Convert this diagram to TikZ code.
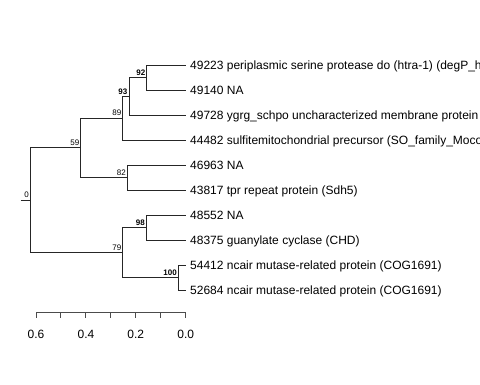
\documentclass[tikz,border=0pt]{standalone}
\usepackage{fontspec}
\setmainfont{Liberation Sans}
\usetikzlibrary{calc}
\begin{document}
\begin{tikzpicture}[x=1pt,y=-1pt,
  edge/.style={draw=black!85,line width=0.9pt},
  leaflab/.style={anchor=base west,inner sep=0pt,font=\fontsize{12}{14}\selectfont},
  boot/.style={anchor=base east,inner sep=0pt,font=\fontsize{8}{9}\selectfont},
  bootb/.style={boot,font=\fontsize{8}{9}\selectfont\bfseries},
  axlab/.style={anchor=base,inner sep=0pt,font=\fontsize{12}{14}\selectfont}]
\useasboundingbox (0,0) rectangle (480,384);
% internal nodes
\coordinate (root) at (30.7,200);
\coordinate (rs) at (20.7,200);
\coordinate (n59) at (80.7,147.5);
\coordinate (n89) at (122.7,118.1);
\coordinate (n93) at (129,96.25);
\coordinate (n92) at (146.7,77.5);
\coordinate (n82) at (127.3,177.5);
\coordinate (n79) at (122.7,252.5);
\coordinate (n98) at (146,227.5);
\coordinate (n100) at (178.3,277.5);
% leaves
\foreach \i/\yy in {1/65,2/90,3/115,4/140,5/165,6/190,7/215,8/240,9/265,10/290}
  \coordinate (t\i) at (185.7,\yy);
\node[leaflab] (l1) at (190,69.3) {49223 periplasmic serine protease do (htra-1) (degP\_htrA\_DO)};
\node[leaflab] (l2) at (190,94.3) {49140 NA};
\node[leaflab] (l3) at (190,119.3) {49728 ygrg\_schpo uncharacterized membrane protein};
\node[leaflab] (l4) at (190,144.3) {44482 sulfitemitochondrial precursor (SO\_family\_Moco)};
\node[leaflab] (l5) at (190,169.3) {46963 NA};
\node[leaflab] (l6) at (190,194.3) {43817 tpr repeat protein (Sdh5)};
\node[leaflab] (l7) at (190,219.3) {48552 NA};
\node[leaflab] (l8) at (190,244.3) {48375 guanylate cyclase (CHD)};
\node[leaflab] (l9) at (190,269.3) {54412 ncair mutase-related protein (COG1691)};
\node[leaflab] (l10) at (190,294.3) {52684 ncair mutase-related protein (COG1691)};
% edges
\draw[edge] (rs) -- (root);
\draw[edge] (root) |- (n59);
\draw[edge] (root) |- (n79);
\draw[edge] (n59) |- (n89);
\draw[edge] (n59) |- (n82);
\draw[edge] (n89) |- (n93);
\draw[edge] (n89) |- (t4);
\draw[edge] (n93) |- (n92);
\draw[edge] (n93) |- (t3);
\draw[edge] (n92) |- (t1);
\draw[edge] (n92) |- (t2);
\draw[edge] (n82) |- (t5);
\draw[edge] (n82) |- (t6);
\draw[edge] (n79) |- (n98);
\draw[edge] (n79) |- (n100);
\draw[edge] (n98) |- (t7);
\draw[edge] (n98) |- (t8);
\draw[edge] (n100) |- (t9);
\draw[edge] (n100) |- (t10);
% bootstrap labels
\node[boot] (b0) at (29,197) {0};
\node[boot] (b59) at (79.5,145.5) {59};
\node[boot] (b89) at (121.5,115.7) {89};
\node[bootb] (b93) at (127.5,94) {93};
\node[bootb] (b92) at (145.5,75.5) {92};
\node[boot] (b82) at (126,175.5) {82};
\node[boot] (b79) at (121.5,250.5) {79};
\node[bootb] (b98) at (145,225.5) {98};
\node[bootb] (b100) at (177,275.5) {100};
% scale axis
\coordinate (a0) at (36,312.3);
\coordinate (a6) at (185.7,312.3);
\draw[edge,draw=black!70] (a0) -- (a6);
\foreach \k in {0,...,6}
  \draw[edge,draw=black!70] ($(a0)!\k/6!(a6)$) -- ++(0,6);
\node[axlab] (x6) at (36,338) {0.6};
\node[axlab] (x4) at (86,338) {0.4};
\node[axlab] (x2) at (135.8,338) {0.2};
\node[axlab] (x0) at (185.7,338) {0.0};
\end{tikzpicture}
\end{document}
